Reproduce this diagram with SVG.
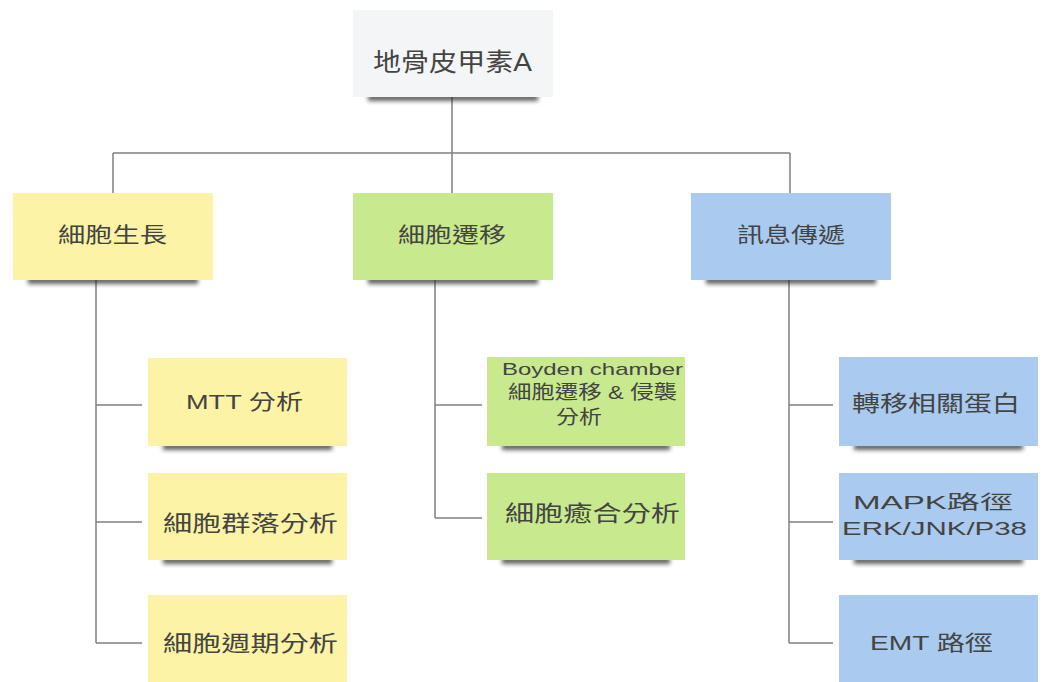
<svg xmlns="http://www.w3.org/2000/svg" width="1043" height="682" viewBox="0 0 1043 682">
<defs>
<filter id="sh" x="-20%" y="-200%" width="140%" height="500%"><feGaussianBlur stdDeviation="2.2"/></filter>
<style>
.t{font-family:"Liberation Sans","Noto Sans CJK TC",sans-serif;fill:#444444;text-anchor:middle}
.y{fill:#fcf3a6}
.g{fill:#c8e98e}
.b{fill:#aacbef}
.w{fill:#f4f5f7}
.s{fill:#222222;opacity:0.7;filter:url(#sh)}
.c{stroke:#808080;stroke-width:1.5;fill:none}
</style>
</defs>
<rect width="1043" height="682" fill="#ffffff"/>
<g id="connectors">
<path class="c" d="M452 97V153M113 153H790M113 153V193M452 153V193M790 153V193"/>
<path class="c" d="M96 280V643M96 405H142M96 522H142M96 643H142"/>
<path class="c" d="M435 280V518M435 405H482M435 518H482"/>
<path class="c" d="M789 280V643M789 405H833M789 522H833M789 643H833"/>
</g>
<g id="root">
<rect class="s" x="368" y="94" width="170" height="7"/>
<rect class="w" x="353" y="10" width="200" height="87"/>
<text class="t" x="452.5" y="71" font-size="25" textLength="159" lengthAdjust="spacingAndGlyphs">地骨皮甲素A</text>
</g>
<g id="growth">
<rect class="s" x="28" y="277" width="170" height="7"/>
<rect class="y" x="13" y="193" width="200" height="87"/>
<text class="t" x="112.5" y="242" font-size="21" textLength="109" lengthAdjust="spacingAndGlyphs">細胞生長</text>
</g>
<g id="migration">
<rect class="s" x="368" y="277" width="170" height="7"/>
<rect class="g" x="353" y="193" width="200" height="87"/>
<text class="t" x="452" y="242" font-size="21" textLength="108" lengthAdjust="spacingAndGlyphs">細胞遷移</text>
</g>
<g id="signal">
<rect class="s" x="706" y="277" width="170" height="7"/>
<rect class="b" x="691" y="193" width="200" height="87"/>
<text class="t" x="791" y="242" font-size="21" textLength="108" lengthAdjust="spacingAndGlyphs">訊息傳遞</text>
</g>
<g id="mtt">
<rect class="s" x="163" y="443" width="169" height="7"/>
<rect class="y" x="148" y="358" width="199" height="88"/>
<text class="t" x="244.5" y="409" font-size="21" textLength="117" lengthAdjust="spacingAndGlyphs">MTT 分析</text>
</g>
<g id="colony">
<rect class="s" x="163" y="557" width="169" height="7"/>
<rect class="y" x="148" y="473" width="199" height="87"/>
<text class="t" x="250.5" y="531" font-size="22" textLength="175" lengthAdjust="spacingAndGlyphs">細胞群落分析</text>
</g>
<g id="cycle">
<rect class="y" x="148" y="595" width="199" height="87"/>
<text class="t" x="250.5" y="651" font-size="22" textLength="175" lengthAdjust="spacingAndGlyphs">細胞週期分析</text>
</g>
<g id="boyden">
<rect class="s" x="502" y="443" width="168" height="7"/>
<rect class="g" x="487" y="357" width="198" height="89"/>
<text class="t" x="592.5" y="375" font-size="17" textLength="181" lengthAdjust="spacingAndGlyphs">Boyden chamber</text>
<text class="t" x="592.5" y="399" font-size="19" textLength="169" lengthAdjust="spacingAndGlyphs">細胞遷移 &amp; 侵襲</text>
<text class="t" x="579" y="424" font-size="19" textLength="46" lengthAdjust="spacingAndGlyphs">分析</text>
</g>
<g id="wound">
<rect class="s" x="502" y="557" width="168" height="7"/>
<rect class="g" x="487" y="473" width="198" height="87"/>
<text class="t" x="592.5" y="521" font-size="22" textLength="175" lengthAdjust="spacingAndGlyphs">細胞癒合分析</text>
</g>
<g id="protein">
<rect class="s" x="854" y="443" width="169" height="7"/>
<rect class="b" x="839" y="357" width="199" height="89"/>
<text class="t" x="936" y="411" font-size="22" textLength="168" lengthAdjust="spacingAndGlyphs">轉移相關蛋白</text>
</g>
<g id="mapk">
<rect class="s" x="854" y="557" width="169" height="7"/>
<rect class="b" x="839" y="473" width="199" height="87"/>
<text class="t" x="933" y="509" font-size="19" textLength="160" lengthAdjust="spacingAndGlyphs">MAPK路徑</text>
<text class="t" x="934.5" y="535" font-size="19" textLength="185" lengthAdjust="spacingAndGlyphs">ERK/JNK/P38</text>
</g>
<g id="emt">
<rect class="b" x="839" y="595" width="199" height="87"/>
<text class="t" x="931.5" y="650" font-size="21" textLength="123" lengthAdjust="spacingAndGlyphs">EMT 路徑</text>
</g>
</svg>
